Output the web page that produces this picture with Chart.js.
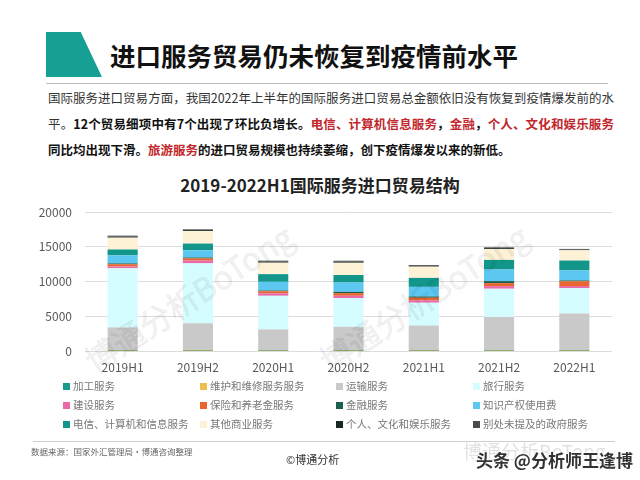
<!DOCTYPE html>
<html>
<head>
<meta charset="utf-8">
<script src="https://cdn.jsdelivr.net/npm/chart.js@4/dist/chart.umd.min.js"></script>
<style>
  body { margin: 0; background: #fff; font-family: "Noto Sans CJK SC", sans-serif; }
  #page { position: relative; width: 640px; height: 480px; overflow: hidden; background: #fff; }
  .abs { position: absolute; white-space: nowrap; }
  #mark { left: 46px; top: 32px; width: 56px; height: 45px; background: #16a093;
          clip-path: polygon(0 0, 62% 0, 100% 100%, 0 100%); }
  #title { left: 110px; top: 38px; font-size: 25.5px; font-weight: bold; color: #111; line-height: 34px; }
  #rule { left: 46px; top: 83px; width: 562px; height: 1px; background: #bdbdbd; }
  .para { left: 48px; width: 566px; font-size: 12.5px; line-height: 18px; color: #333;
          text-align: justify; text-align-last: justify; }
  .b { font-weight: bold; color: #111; }
  .r { font-weight: bold; color: #c1272d; }
  #ctitle { left: 0; width: 640px; top: 172px; text-align: center; font-size: 17px; font-weight: bold; color: #222; }
  #chartBox { left: 0; top: 190px; width: 640px; height: 190px; }
  .lg { font-size: 10.5px; color: #777; line-height: 14px; }
  .lg i { position: absolute; left: 0; top: 4px; width: 7px; height: 7px; }
  .lg span { position: absolute; left: 10px; top: 0; }
  #sep { left: 33px; top: 441px; width: 582px; height: 1px; background: #cfcfcf; }
  #src { left: 31px; top: 445px; font-size: 8.5px; color: #666; }
  #copy { left: 286px; top: 451px; font-size: 11px; color: #333; }
  .wm { font-size: 32px; color: rgba(0,0,0,0.05); -webkit-text-stroke: 0.6px rgba(0,0,0,0.07);
        transform-origin: center; pointer-events: none; }
  #wm3 { left: 463px; top: 437px; font-size: 19px; color: rgba(0,0,0,0.12); }
  #tt { left: 476px; top: 447px; font-size: 17px; color: #333; font-weight: bold;
        text-shadow: 0 0 2px #fff, 0 0 2px #fff, 0 0 3px #fff; }
</style>
</head>
<body>
<div id="page">
  <div id="mark" class="abs"></div>
  <div id="title" class="abs">进口服务贸易仍未恢复到疫情前水平</div>
  <div id="rule" class="abs"></div>
  <div class="abs para" style="top:89px">国际服务进口贸易方面，我国2022年上半年的国际服务进口贸易总金额依旧没有恢复到疫情爆发前的水</div>
  <div class="abs para" style="top:115px">平。<span class="b">12个贸易细项中有7个出现了环比负增长。</span><span class="r">电信、计算机信息服务</span><span class="b">，</span><span class="r">金融</span><span class="b">，</span><span class="r">个人、文化和娱乐服务</span></div>
  <div class="abs para" style="top:141px;text-align:left;text-align-last:left"><span class="b">同比均出现下滑。</span><span class="r">旅游服务</span><span class="b">的进口贸易规模也持续萎缩，创下疫情爆发以来的新低。</span></div>
  <div id="ctitle" class="abs">2019-2022H1国际服务进口贸易结构</div>
  <div id="chartBox" class="abs"><canvas id="chart"></canvas></div>
  <div id="legend"></div>
  <div id="sep" class="abs"></div>
  <div id="src" class="abs">数据来源：国家外汇管理局·博通咨询整理</div>
  <div id="copy" class="abs">©博通分析</div>
  <div class="abs wm" style="left:68px;top:274px;transform:rotate(-33deg)">博通分析BoTong</div>
  <div class="abs wm" style="left:303px;top:274px;transform:rotate(-33deg)">博通分析BoTong</div>
  <div id="wm3" class="abs">博通分析BoTong</div>
  <div id="tt" class="abs">头条 @分析师王逢博</div>
</div>
<script>
// 数据：亿元，按半年
const periods = ['2019H1', '2019H2', '2020H1', '2020H2', '2021H1', '2021H2', '2022H1'];
const processing   = [8, 8, 6, 7, 7, 7, 8];
const maintenance  = [140, 150, 130, 140, 140, 140, 140];
const transport    = [3250, 3830, 2970, 3330, 3520, 4760, 5240];
const travel       = [8500, 8620, 4830, 4140, 3280, 4050, 3670];
const construction = [260, 400, 370, 330, 330, 380, 290];
const insurance    = [330, 300, 290, 380, 380, 430, 670];
const finance      = [120, 150, 110, 190, 190, 290, 140];
const ipCharges    = [1140, 1050, 1250, 1330, 1380, 1670, 1430];
const telecom      = [860, 950, 1100, 1090, 1290, 1380, 1430];
const otherBiz     = [1700, 1800, 1650, 1760, 1620, 1570, 1480];
const personal     = [150, 130, 150, 150, 120, 120, 100];
const government   = [140, 120, 140, 140, 120, 120, 90];
const yTicks = [0, 5000, 10000, 15000, 20000];

const seriesNames = ['加工服务', '维护和维修服务服务', '运输服务', '旅行服务', '建设服务', '保险和养老金服务',
  '金融服务', '知识产权使用费', '电信、计算机和信息服务', '其他商业服务', '个人、文化和娱乐服务', '别处未提及的政府服务'];
const seriesData = [processing, maintenance, transport, travel, construction, insurance,
  finance, ipCharges, telecom, otherBiz, personal, government];
const seriesColors = ['#1a9a88', '#f2bd4f', '#c9c9c9', '#d5fcff', '#e86aa8', '#e8652e',
  '#1b5e52', '#5cc8f2', '#12968a', '#fdf1d6', '#1a2824', '#4a4a4a'];

const font = 'Noto Sans CJK SC';

const chart = new Chart(document.getElementById('chart'), {
  type: 'bar',
  data: {
    labels: periods,
    datasets: seriesNames.map((name, i) => ({
      label: name,
      data: seriesData[i],
      backgroundColor: seriesColors[i],
      borderWidth: 0,
      categoryPercentage: 0.8,
      barPercentage: 0.5
    }))
  },
  options: {
    responsive: true,
    maintainAspectRatio: false,
    animation: false,
    layout: { padding: { top: 22, right: 28, left: 0, bottom: 0 } },
    plugins: { legend: { display: false }, tooltip: { enabled: false } },
    scales: {
      x: {
        stacked: true,
        grid: { display: false, drawTicks: false },
        border: { display: false },
        ticks: { color: '#595959', font: { family: font, size: 12 }, padding: 9 },
        afterFit: function (scale) { scale.height = 29; }
      },
      y: {
        stacked: true,
        min: 0,
        max: 20000,
        afterBuildTicks: function (scale) { scale.ticks = yTicks.map(v => ({ value: v })); },
        grid: { color: '#dcdcdc', drawTicks: false },
        border: { display: false },
        ticks: {
          color: '#595959', font: { family: font, size: 12 }, padding: 13,
          callback: function (v) { return String(v); }
        },
        afterFit: function (scale) { scale.width = 85; }
      }
    }
  }
});

// 图例：四列三行
const colX = [63, 200, 336, 473];
const rowY = [379, 398, 417];
const legend = document.getElementById('legend');
chart.data.datasets.forEach(function (ds, i) {
  const item = document.createElement('div');
  item.className = 'abs lg';
  item.style.left = colX[i % 4] + 'px';
  item.style.top = rowY[Math.floor(i / 4)] + 'px';
  item.innerHTML = `<i style="background:${ds.backgroundColor}"></i><span>${ds.label}</span>`;
  legend.appendChild(item);
});
</script>
</body>
</html>
